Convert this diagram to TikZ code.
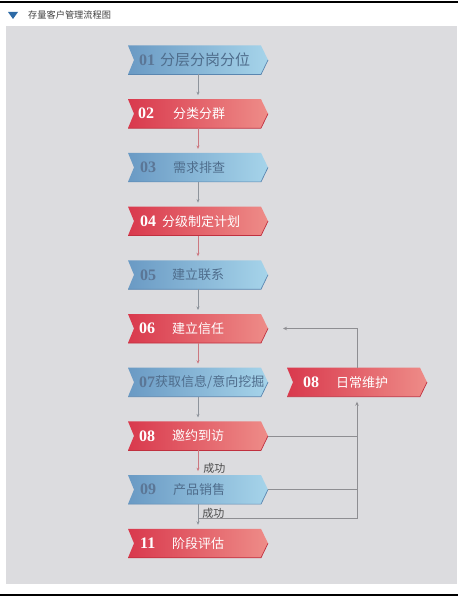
\documentclass[tikz,border=0pt]{standalone}
\usepackage{fontspec}
\setmainfont{Liberation Serif}
\newfontfamily\cjk{Noto Sans CJK SC}
\usetikzlibrary{arrows.meta,calc}
\definecolor{panel}{HTML}{DCDCDF}
\definecolor{bL}{HTML}{6A9AC4}
\definecolor{bR}{HTML}{A6D4EA}
\definecolor{bE}{HTML}{5A86B0}
\definecolor{rL}{HTML}{D9394D}
\definecolor{rR}{HTML}{EE8C88}
\definecolor{rE}{HTML}{C0303F}
\definecolor{btxt}{HTML}{4F6D8C}
\definecolor{bnum}{HTML}{5B7696}
\definecolor{cgray}{HTML}{8E949C}
\definecolor{cred}{HTML}{CC7880}
\definecolor{fbc}{HTML}{8E8E92}
\definecolor{hdr}{HTML}{2D6AA6}
\newcommand\chevbox[4]{%
  \node[boxsz] (#1) at (#2) {};
  \path[#3] (#1.north west) -- ($(#1.west)+(6,0)$) -- (#1.south west)
     -- ($(#1.south east)+(-7,0)$) -- (#1.east) -- ($(#1.north east)+(-7,0)$) -- cycle;
  \draw[#4, line width=0.7pt] (#1.south west) -- ($(#1.south east)+(-7,0)$) -- (#1.east);
}
\begin{document}
\begin{tikzpicture}[x=1pt,y=-1pt,
  boxsz/.style={minimum width=140pt, minimum height=29pt, inner sep=0pt, outer sep=0pt},
  blueshade/.style={left color=bL, right color=bR},
  redshade/.style={left color=rL, right color=rR},
  bnumst/.style={anchor=west, inner sep=0pt, font=\fontsize{16}{16}\selectfont\bfseries, text=bnum},
  rnumst/.style={anchor=west, inner sep=0pt, font=\fontsize{16}{16}\selectfont\bfseries, text=white},
  btxtst/.style={anchor=west, inner sep=0pt, font=\cjk\fontsize{13}{13}\selectfont, text=btxt},
  rtxtst/.style={anchor=west, inner sep=0pt, font=\cjk\fontsize{13}{13}\selectfont, text=white},
  connb/.style={draw=cgray, line width=0.6pt, -{Stealth[length=3.5pt,width=3pt]}, shorten >=4pt},
  connr/.style={draw=cred, line width=0.6pt, -{Stealth[length=3.5pt,width=3pt]}, shorten >=4pt},
  fb/.style={draw=fbc, line width=0.7pt},
  lbl/.style={font=\cjk\fontsize{11}{11}\selectfont, text=black!70, inner sep=1pt}
]
\useasboundingbox (0,0) rectangle (463,601);
\fill[white] (0,0) rectangle (463,601);
\draw[black, line width=1.3pt] (0,2) -- (458,2);
\draw[black, line width=1.3pt] (0,595) -- (458,595);
\fill[hdr] (8,12) -- (18,12) -- (13,19) -- cycle;
\node[anchor=west, inner sep=0pt, font=\cjk\fontsize{9.2}{10}\selectfont, text=black!75] (title) at (28,15) {存量客户管理流程图};
\fill[panel] (6,26) rectangle (457,584);

\chevbox{n01}{198,60}{blueshade}{bE}
\chevbox{n02}{198,113.7}{redshade}{rE}
\chevbox{n03}{198,167.4}{blueshade}{bE}
\chevbox{n04}{198,221.1}{redshade}{rE}
\chevbox{n05}{198,274.8}{blueshade}{bE}
\chevbox{n06}{198,328.5}{redshade}{rE}
\chevbox{n07}{198,382.2}{blueshade}{bE}
\chevbox{n08}{198,435.9}{redshade}{rE}
\chevbox{n09}{198,489.6}{blueshade}{bE}
\chevbox{n11}{198,543.3}{redshade}{rE}
\chevbox{r08}{357,382.2}{redshade}{rE}

\node[bnumst] (t01n) at (139,60) {01};
\node[btxtst, font=\cjk\fontsize{15}{15}\selectfont] (t01) at (160,60) {分层分岗分位};
\node[rnumst] (t02n) at (138,113.7) {02};
\node[rtxtst] (t02) at (173,113.7) {分类分群};
\node[bnumst] (t03n) at (140,167.4) {03};
\node[btxtst] (t03) at (173,167.4) {需求排查};
\node[rnumst] (t04n) at (140,221.1) {04};
\node[rtxtst] (t04) at (162,221.1) {分级制定计划};
\node[bnumst] (t05n) at (140,274.8) {05};
\node[btxtst] (t05) at (172,274.8) {建立联系};
\node[rnumst] (t06n) at (139,328.5) {06};
\node[rtxtst] (t06) at (172,328.5) {建立信任};
\node[bnumst] (t07n) at (139,382.2) {07};
\node[btxtst] (t07) at (155,382.2) {获取信息/意向挖掘};
\node[rnumst] (t08n) at (139,435.9) {08};
\node[rtxtst] (t08) at (172,435.9) {邀约到访};
\node[bnumst] (t09n) at (140,489.6) {09};
\node[btxtst] (t09) at (173,489.6) {产品销售};
\node[rnumst] (t11n) at (140,543.3) {11};
\node[rtxtst] (t11) at (172,543.3) {阶段评估};
\node[rnumst] (tr08n) at (303,382.2) {08};
\node[rtxtst] (tr08) at (336,382.2) {日常维护};

\draw[connb] (n01) -- (n02);
\draw[connr] (n02) -- (n03);
\draw[connb] (n03) -- (n04);
\draw[connr] (n04) -- (n05);
\draw[connb] (n05) -- (n06);
\draw[connr] (n06) -- (n07);
\draw[connb] (n07) -- (n08);
\draw[connr] (n08) -- node[lbl, pos=0.72, anchor=west, xshift=4pt] (ok1) {成功} (n09);
\draw[connb] (n09) -- node[lbl, pos=0.36, anchor=west, xshift=3pt] (ok2) {成功} (n11);

\coordinate (j) at (198,518);
\draw[fb, -{Stealth[length=4pt,width=3.5pt]}] (r08.north) -- (r08.north |- n06.east) -- ($(n06.east)+(15,0)$);
\draw[fb] (n08.east) -- (n08.east -| r08.south);
\draw[fb] (n09.east) -- (n09.east -| r08.south);
\draw[fb, -{Stealth[length=4pt,width=3.5pt]}, shorten >=5pt] (j) -- (j -| r08.south) -- (r08.south);
\end{tikzpicture}
\end{document}
